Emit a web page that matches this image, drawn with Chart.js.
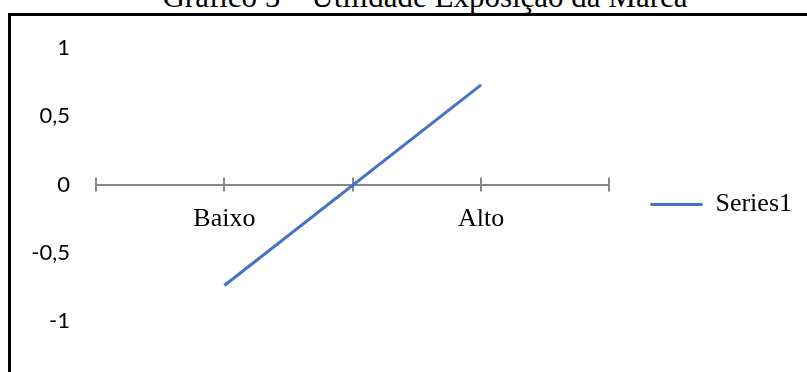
<!DOCTYPE html>
<html>
<head>
<meta charset="utf-8">
<script src="https://cdn.jsdelivr.net/npm/chart.js@4"></script>
<style>
    body { margin: 0; background: #fff; }
    #wrap { position: relative; width: 807px; height: 372px; overflow: hidden; }
    #title {
        position: absolute; left: 0; top: -19px; width: 850px;
        text-align: center; white-space: nowrap;
        font-family: "Liberation Serif", serif; font-size: 31px; line-height: 31px; color: #000;
    }
    #frame {
        position: absolute; left: 8px; top: 13px; right: -10px; bottom: -10px;
        border-top: 3px solid #000; border-left: 3px solid #000;
        pointer-events: none;
    }
    #chartBox { position: absolute; left: 0; top: 0; width: 807px; height: 372px; }
</style>
</head>
<body>
<div id="wrap">
    <div id="title">Gráfico 5 – Utilidade Exposição da Marca</div>
    <div id="frame"></div>
    <div id="chartBox"><canvas id="utilChart"></canvas></div>
</div>
<script>
// Categories along the horizontal axis (tick marks at every slot)
const categories = ['', 'Baixo', '', 'Alto', ''];
// Series values
const series1 = [null, -0.74, null, 0.73, null];
// Vertical axis tick values
const yTicks = [-1, -0.5, 0, 0.5, 1];

// Tick marks that cross the horizontal axis (Excel style)
const crossTicks = {
    id: 'crossTicks',
    beforeDatasetsDraw(chart) {
        const xs = chart.scales.x;
        const y0 = chart.scales.y.getPixelForValue(0);
        const ctx = chart.ctx;
        ctx.save();
        ctx.strokeStyle = '#888';
        ctx.lineWidth = 2;
        xs.ticks.forEach((t, i) => {
            const px = Math.round(xs.getPixelForTick(i));
            ctx.beginPath();
            ctx.moveTo(px, y0 - 7);
            ctx.lineTo(px, y0 + 7);
            ctx.stroke();
        });
        ctx.restore();
    }
};

const ctx = document.getElementById('utilChart');
new Chart(ctx, {
    type: 'line',
    data: {
        labels: categories,
        datasets: [{
            label: 'Series1',
            data: series1,
            borderColor: '#4472C4',
            backgroundColor: '#4472C4',
            borderWidth: 3,
            pointRadius: 0,
            spanGaps: true,
            tension: 0
        }]
    },
    options: {
        responsive: true,
        maintainAspectRatio: false,
        animation: false,
        layout: { padding: { left: 0, right: 5, top: 48, bottom: 51 } },
        plugins: {
            title: { display: false },
            tooltip: { enabled: false },
            legend: {
                position: 'right',
                title: { display: true, text: ' ', font: { size: 20, lineHeight: 2 }, padding: 0 },
                labels: {
                    usePointStyle: true,
                    pointStyle: 'line',
                    pointStyleWidth: 52,
                    padding: 41,
                    color: '#000',
                    font: { family: '"Liberation Serif", serif', size: 26 }
                }
            }
        },
        scales: {
            x: {
                type: 'category',
                position: { y: 0 },
                offset: false,
                grid: { drawOnChartArea: false, drawTicks: false },
                border: { display: true, color: '#888', width: 2 },
                ticks: {
                    autoSkip: false,
                    maxRotation: 0,
                    padding: 19,
                    color: '#000',
                    font: { family: '"Liberation Serif", serif', size: 26 }
                }
            },
            y: {
                min: -1,
                max: 1,
                afterFit(scale) { scale.width = 96; },
                afterBuildTicks(scale) { scale.ticks = yTicks.map(v => ({ value: v })); },
                grid: { display: false, drawTicks: false },
                border: { display: false },
                ticks: {
                    padding: 26,
                    color: '#000',
                    font: { family: 'Lato, sans-serif', size: 22 },
                    callback: v => String(v).replace('.', ',')
                }
            }
        }
    },
    plugins: [crossTicks]
});
</script>
</body>
</html>
